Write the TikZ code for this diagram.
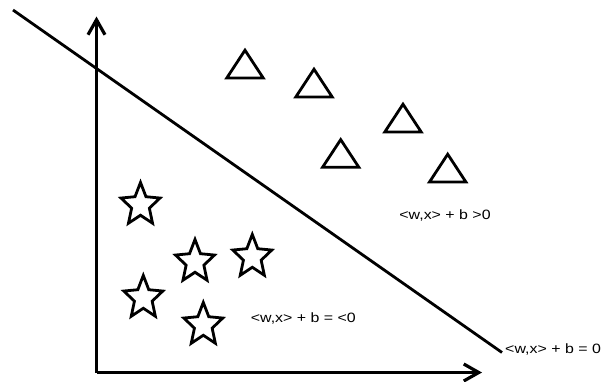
\documentclass[tikz,border=0pt]{standalone}
\usepackage{fontspec}
\setmainfont{Liberation Sans}
\usepackage{xcolor}
\usetikzlibrary{positioning, arrows.meta, shapes.geometric}
\definecolor{ink}{HTML}{000000}
\tikzset{
  axis/.style={-{Straight Barb[length=15pt, width=17pt]}, line width=3.2pt, draw=ink},
  boundary/.style={line width=2.8pt, draw=ink},
  starpt/.style={star, star points=5, star point ratio=2.2, minimum size=41pt, inner sep=0pt, yscale=1.1, draw=ink, line width=2.8pt, fill=white},
  tript/.style={regular polygon, regular polygon sides=3, minimum size=42pt, inner sep=0pt, yscale=0.88, draw=ink, line width=2.8pt, fill=white},
  lbl/.style={font=\fontsize{13.5}{15}\selectfont, inner sep=0pt, xscale=1.18, text=ink},
}
\begin{document}
\begin{tikzpicture}[x=1pt, y=-1pt]
  \useasboundingbox (0,0) rectangle (610,381);
  % axes
  \coordinate (origin) at (96.5,372.5);
  \coordinate (ytip) at (96.5,16.5);
  \coordinate (xtip) at (482,372.5);
  \draw[axis] (origin) -- (ytip);
  \draw[axis] (origin) -- (xtip);
  % separating line
  \coordinate (lstart) at (13,10);
  \coordinate (lend) at (502,352.5);
  \draw[boundary] (lstart) -- (lend);
  % class +1 : triangles
  \foreach \x/\y [count=\i] in {245/68.7, 314/87.7, 403/122.7, 340.7/158.1, 447.7/172.7}
    \node[tript] (tri\i) at (\x,\y) {};
  % class -1 : stars
  \foreach \x/\y [count=\i] in {140.5/205, 195/262, 252.3/257, 143.3/298, 203.3/325}
    \node[starpt] (star\i) at (\x,\y) {};
  % labels
  \node[lbl] (pos) at (445,215) {<w,x> + b >0};
  \node[lbl] (neg) at (303.3,318.5) {<w,x> + b = <0};
  \node[lbl, anchor=west] (zero) at (505,349) {<w,x> + b = 0};
\end{tikzpicture}
\end{document}
